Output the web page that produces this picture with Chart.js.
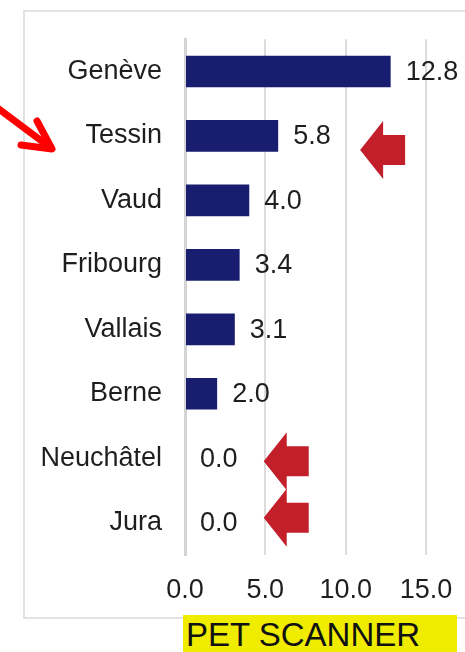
<!DOCTYPE html>
<html>
<head>
<meta charset="utf-8">
<script src="https://cdn.jsdelivr.net/npm/chart.js@4"></script>
<style>
  html, body { margin: 0; padding: 0; background: #fff; }
  body { width: 465px; height: 652px; position: relative; overflow: hidden; font-family: "Liberation Sans", Arial, sans-serif; }
  #frame { position: absolute; left: 23px; top: 10px; width: 470px; height: 609px; border: 2px solid #e2e2e2; box-sizing: border-box; }
  #wrap { position: absolute; left: 0; top: 0; width: 465px; height: 652px; }
  #title { position: absolute; left: 183px; top: 615px; width: 274px; height: 40px; background: #f0ec00; color: #111; font-size: 33px; line-height: 40px; padding-left: 3px; box-sizing: border-box; white-space: nowrap; }
</style>
</head>
<body>
<div id="frame"></div>
<div id="wrap"><canvas id="chart" width="465" height="652"></canvas></div>
<div id="title">PET SCANNER</div>
<script>
// cantons et valeurs
const cantons = ['Genève', 'Tessin', 'Vaud', 'Fribourg', 'Vallais', 'Berne', 'Neuchâtel', 'Jura'];
const valeurs = [12.8, 5.8, 4.0, 3.4, 3.1, 2.0, 0.0, 0.0];
const ticksX = [0, 5, 10, 15];

const police = '"Liberation Sans", Arial, sans-serif';

// etiquettes de valeurs au bout des barres
const etiquettes = {
    id: 'etiquettes',
    afterDatasetsDraw(chart) {
        const ctx = chart.ctx;
        const meta = chart.getDatasetMeta(0);
        ctx.save();
        ctx.font = '27px ' + police;
        ctx.fillStyle = '#1e1e1e';
        ctx.textBaseline = 'middle';
        ctx.textAlign = 'left';
        meta.data.forEach((bar, i) => {
            ctx.fillText(valeurs[i].toFixed(1), bar.x + 15, bar.y + 1);
        });
        ctx.restore();
    }
};

// fleches rouges (annotations)
function flecheBloc(ctx, x, y) {
    ctx.beginPath();
    ctx.moveTo(x, y);
    ctx.lineTo(x + 23, y - 29);
    ctx.lineTo(x + 23, y - 15);
    ctx.lineTo(x + 45, y - 15);
    ctx.lineTo(x + 45, y + 15);
    ctx.lineTo(x + 23, y + 15);
    ctx.lineTo(x + 23, y + 29);
    ctx.closePath();
    ctx.fill();
}

const fleches = {
    id: 'fleches',
    afterDraw(chart) {
        const ctx = chart.ctx;
        const xs = chart.scales.x;
        const ys = chart.scales.y;
        ctx.save();
        ctx.fillStyle = '#c21f2b';
        flecheBloc(ctx, xs.getPixelForValue(10.9), ys.getPixelForValue(1) + 14);
        flecheBloc(ctx, xs.getPixelForValue(4.9), ys.getPixelForValue(6) + 3);
        flecheBloc(ctx, xs.getPixelForValue(4.9), ys.getPixelForValue(7) - 5);

        // fleche fine en haut a gauche
        ctx.strokeStyle = '#ff0000';
        ctx.lineWidth = 7;
        ctx.lineCap = 'round';
        ctx.lineJoin = 'round';
        ctx.beginPath();
        ctx.moveTo(-5, 106);
        ctx.lineTo(51, 148);
        ctx.stroke();
        ctx.beginPath();
        ctx.moveTo(37, 121);
        ctx.lineTo(52, 149);
        ctx.lineTo(21, 145);
        ctx.stroke();
        ctx.restore();
    }
};

new Chart(document.getElementById('chart'), {
    type: 'bar',
    data: {
        labels: cantons,
        datasets: [{
            data: valeurs,
            backgroundColor: '#181d70',
            borderWidth: 0,
            barPercentage: 0.49,
            categoryPercentage: 1
        }]
    },
    options: {
        indexAxis: 'y',
        responsive: false,
        animation: false,
        layout: { padding: { top: 38, right: 39, left: 0, bottom: 0 } },
        plugins: {
            legend: { display: false },
            tooltip: { enabled: false }
        },
        scales: {
            x: {
                min: 0,
                max: 15,
                afterBuildTicks(scale) {
                    scale.ticks = ticksX.map(v => ({ value: v }));
                },
                afterFit(scale) {
                    scale.height = 97;
                    scale.paddingLeft = 0;
                    scale.paddingRight = 0;
                },
                border: { display: false },
                grid: { color: '#dcdcdc', lineWidth: 2, drawTicks: false },
                ticks: {
                    padding: 19,
                    color: '#1e1e1e',
                    font: { family: police, size: 27 },
                    callback: v => Number(v).toFixed(1)
                }
            },
            y: {
                afterFit(scale) { scale.width = 185; },
                border: { display: true, color: '#d4d4d4', width: 3 },
                grid: { display: false, drawTicks: false },
                ticks: {
                    padding: 23,
                    color: '#1e1e1e',
                    font: { family: police, size: 27 }
                }
            }
        }
    },
    plugins: [etiquettes, fleches]
});
</script>
</body>
</html>
